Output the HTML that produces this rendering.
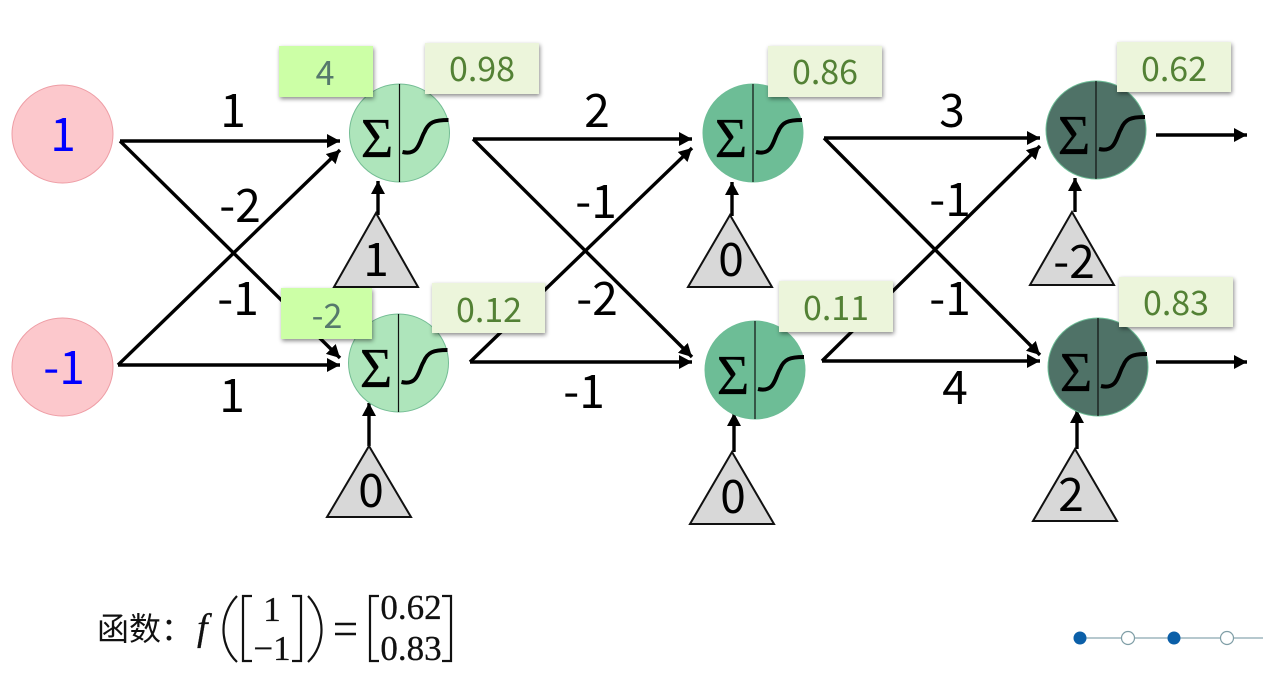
<!DOCTYPE html>
<html><head><meta charset="utf-8">
<style>
html,body{margin:0;padding:0;background:#fff}
svg{display:block}
text{font-family:"Noto Sans CJK SC","Liberation Sans",sans-serif}
.l{font-size:46px;text-anchor:middle;fill:#000}
.i{font-size:46px;text-anchor:middle;fill:#0000ff}
.s{font-size:56px;text-anchor:middle;fill:#000;stroke:#000;stroke-width:.2}
.s text{font-family:"Liberation Serif",serif}
.b{font-size:34px;text-anchor:middle;fill:#538135}
.c{font-size:34px;text-anchor:middle;fill:#56796c}
text.f{font-family:"Liberation Serif",serif;font-size:35px;fill:#111;stroke:#111;stroke-width:.3}
.ln{stroke:#000;stroke-width:3.4;fill:none}
.tri{fill:#d8d8d8;stroke:#111;stroke-width:2}
.sig{stroke:#000;stroke-width:4;fill:none}
.box{filter:drop-shadow(1px 2px 2px rgba(0,0,0,.45))}
.br{stroke:#111;stroke-width:2.2;fill:none}
</style></head>
<body>
<svg width="1263" height="680" viewBox="0 0 1263 680" xmlns="http://www.w3.org/2000/svg">
<defs>
<marker id="a" markerUnits="userSpaceOnUse" markerWidth="16" markerHeight="16" refX="13" refY="7" orient="auto">
<path d="M0 0L13 7L0 14Z" fill="#000"/></marker>
</defs>

<ellipse cx="62.5" cy="134" rx="50.5" ry="49" fill="#fcc8cc" stroke="#ee9da5"/>
<ellipse cx="62.5" cy="367" rx="50.5" ry="49" fill="#fcc8cc" stroke="#ee9da5"/>
<text class="i" x="63" y="151">1</text>
<text class="i" x="64" y="384">-1</text>

<g class="ln">
<path d="M120 141H340" marker-end="url(#a)"/>
<path d="M120 141L340 358" marker-end="url(#a)"/>
<path d="M118 365L340 150" marker-end="url(#a)"/>
<path d="M118 365H340" marker-end="url(#a)"/>
<path d="M473 139H692" marker-end="url(#a)"/>
<path d="M473 139L692 357" marker-end="url(#a)"/>
<path d="M470 362L692 148" marker-end="url(#a)"/>
<path d="M470 362H692" marker-end="url(#a)"/>
<path d="M824 138H1040" marker-end="url(#a)"/>
<path d="M824 138L1040 355" marker-end="url(#a)"/>
<path d="M822 361L1040 146" marker-end="url(#a)"/>
<path d="M822 361H1040" marker-end="url(#a)"/>
<path d="M1156 135H1247" marker-end="url(#a)"/>
<path d="M1156 362H1247" marker-end="url(#a)"/>
<path d="M378 215V181" marker-end="url(#a)"/>
<path d="M369 446V403" marker-end="url(#a)"/>
<path d="M732 216V182" marker-end="url(#a)"/>
<path d="M734 452V413" marker-end="url(#a)"/>
<path d="M1075 212V178" marker-end="url(#a)"/>
<path d="M1077 449V410" marker-end="url(#a)"/>
</g>

<g stroke-width="1">
<ellipse cx="399.5" cy="133" rx="50" ry="49" fill="#aee5bb" stroke="#74bd94"/>
<ellipse cx="398.5" cy="363" rx="50" ry="49" fill="#aee5bb" stroke="#74bd94"/>
<ellipse cx="753" cy="133" rx="50" ry="49" fill="#6dbd96" stroke="#6dbd96"/>
<ellipse cx="755" cy="370" rx="50" ry="49" fill="#6dbd96" stroke="#6dbd96"/>
<ellipse cx="1096" cy="130" rx="50" ry="49" fill="#4f7267" stroke="#6dbd96"/>
<ellipse cx="1098" cy="367" rx="50" ry="49" fill="#4f7267" stroke="#6dbd96"/>
</g>
<g stroke="#111" stroke-width="1.2">
<path d="M399.5 84V182M398.5 314V412M753 84V182M755 321V419M1096 81V179M1098 318V416"/>
</g>
<defs><path id="sg" d="M3 19C20 23 20 7 25 -1C29 -11 35 -13 49 -13"/></defs>
<g class="sig">
<use href="#sg" x="399.5" y="133"/>
<use href="#sg" x="398.5" y="363"/>
<use href="#sg" x="753" y="133"/>
<use href="#sg" x="755" y="370"/>
<use href="#sg" x="1096" y="130"/>
<use href="#sg" x="1098" y="367"/>
</g>
<g class="s">
<text x="377" y="157">Σ</text>
<text x="376" y="387">Σ</text>
<text x="731" y="157">Σ</text>
<text x="733" y="394">Σ</text>
<text x="1074" y="154">Σ</text>
<text x="1076" y="391">Σ</text>
</g>

<path class="tri" d="M376 213L418 287H334Z"/>
<path class="tri" d="M369 446L411 517H327Z"/>
<path class="tri" d="M730 215L772 287H688Z"/>
<path class="tri" d="M732 452L774 524H690Z"/>
<path class="tri" d="M1072 212L1114 285H1030Z"/>
<path class="tri" d="M1075 449L1117 521H1033Z"/>

<g>
<text class="l" x="233" y="127">1</text>
<text class="l" x="240" y="222">-2</text>
<text class="l" x="238" y="315">-1</text>
<text class="l" x="232" y="412">1</text>
<text class="l" x="597" y="127">2</text>
<text class="l" x="596" y="218">-1</text>
<text class="l" x="597" y="315">-2</text>
<text class="l" x="584" y="408">-1</text>
<text class="l" x="952" y="127">3</text>
<text class="l" x="950" y="216">-1</text>
<text class="l" x="950" y="315">-1</text>
<text class="l" x="955" y="404">4</text>
<text class="l" x="376" y="276">1</text>
<text class="l" x="371" y="507">0</text>
<text class="l" x="731" y="276">0</text>
<text class="l" x="733" y="513">0</text>
<text class="l" x="1074" y="278">-2</text>
<text class="l" x="1071" y="511">2</text>
</g>

<g class="box">
<rect x="279" y="46" width="94" height="51" fill="#ccffa6"/>
<rect x="425" y="43" width="114" height="51" fill="#ecf5db"/>
<rect x="281" y="288" width="91" height="51" fill="#ccffa6"/>
<rect x="432" y="283" width="113" height="50" fill="#ecf5db"/>
<rect x="768" y="46" width="114" height="51" fill="#ecf5db"/>
<rect x="779" y="281" width="114" height="51" fill="#ecf5db"/>
<rect x="1117" y="42" width="114" height="50" fill="#ecf5db"/>
<rect x="1119" y="277" width="114" height="50" fill="#ecf5db"/>
</g>
<text class="c" x="325" y="85">4</text>
<text class="c" x="327" y="328">-2</text>
<text class="b" x="482" y="81">0.98</text>
<text class="b" x="489" y="322">0.12</text>
<text class="b" x="825" y="84">0.86</text>
<text class="b" x="836" y="320">0.11</text>
<text class="b" x="1174" y="81">0.62</text>
<text class="b" x="1176" y="315">0.83</text>

<text x="97" y="640" style="font-family:'Noto Sans CJK SC',sans-serif;font-size:32px;fill:#111">函数：</text>
<text x="197" y="640" class="f" style="font-style:italic;font-size:38px">f</text>
<path class="br" d="M237 596C219 615 219 645 237 662M308 596C326 615 326 645 308 662"/>
<path class="br" d="M252 596H243V661H252M292 596H301V661H292"/>
<text class="f" x="272" y="621" text-anchor="middle">1</text>
<text class="f" x="272" y="660" text-anchor="middle">−1</text>
<path d="M335 624H356M335 634H356" stroke="#111" stroke-width="2.4"/>
<path class="br" d="M379 596H370V661H379M442 596H451V661H442"/>
<text class="f" x="411" y="619" text-anchor="middle">0.62</text>
<text class="f" x="411" y="660" text-anchor="middle">0.83</text>

<path d="M1080 638H1263" stroke="#8aa8b0" stroke-width="1.2"/>
<circle cx="1080" cy="638" r="6.5" fill="#0b5fa8"/>
<circle cx="1128" cy="638" r="6.5" fill="#fff" stroke="#7f9ea6" stroke-width="1.2"/>
<circle cx="1174" cy="638" r="6.5" fill="#0b5fa8"/>
<circle cx="1227" cy="638" r="6.5" fill="#fff" stroke="#7f9ea6" stroke-width="1.2"/>
</svg>
</body></html>
